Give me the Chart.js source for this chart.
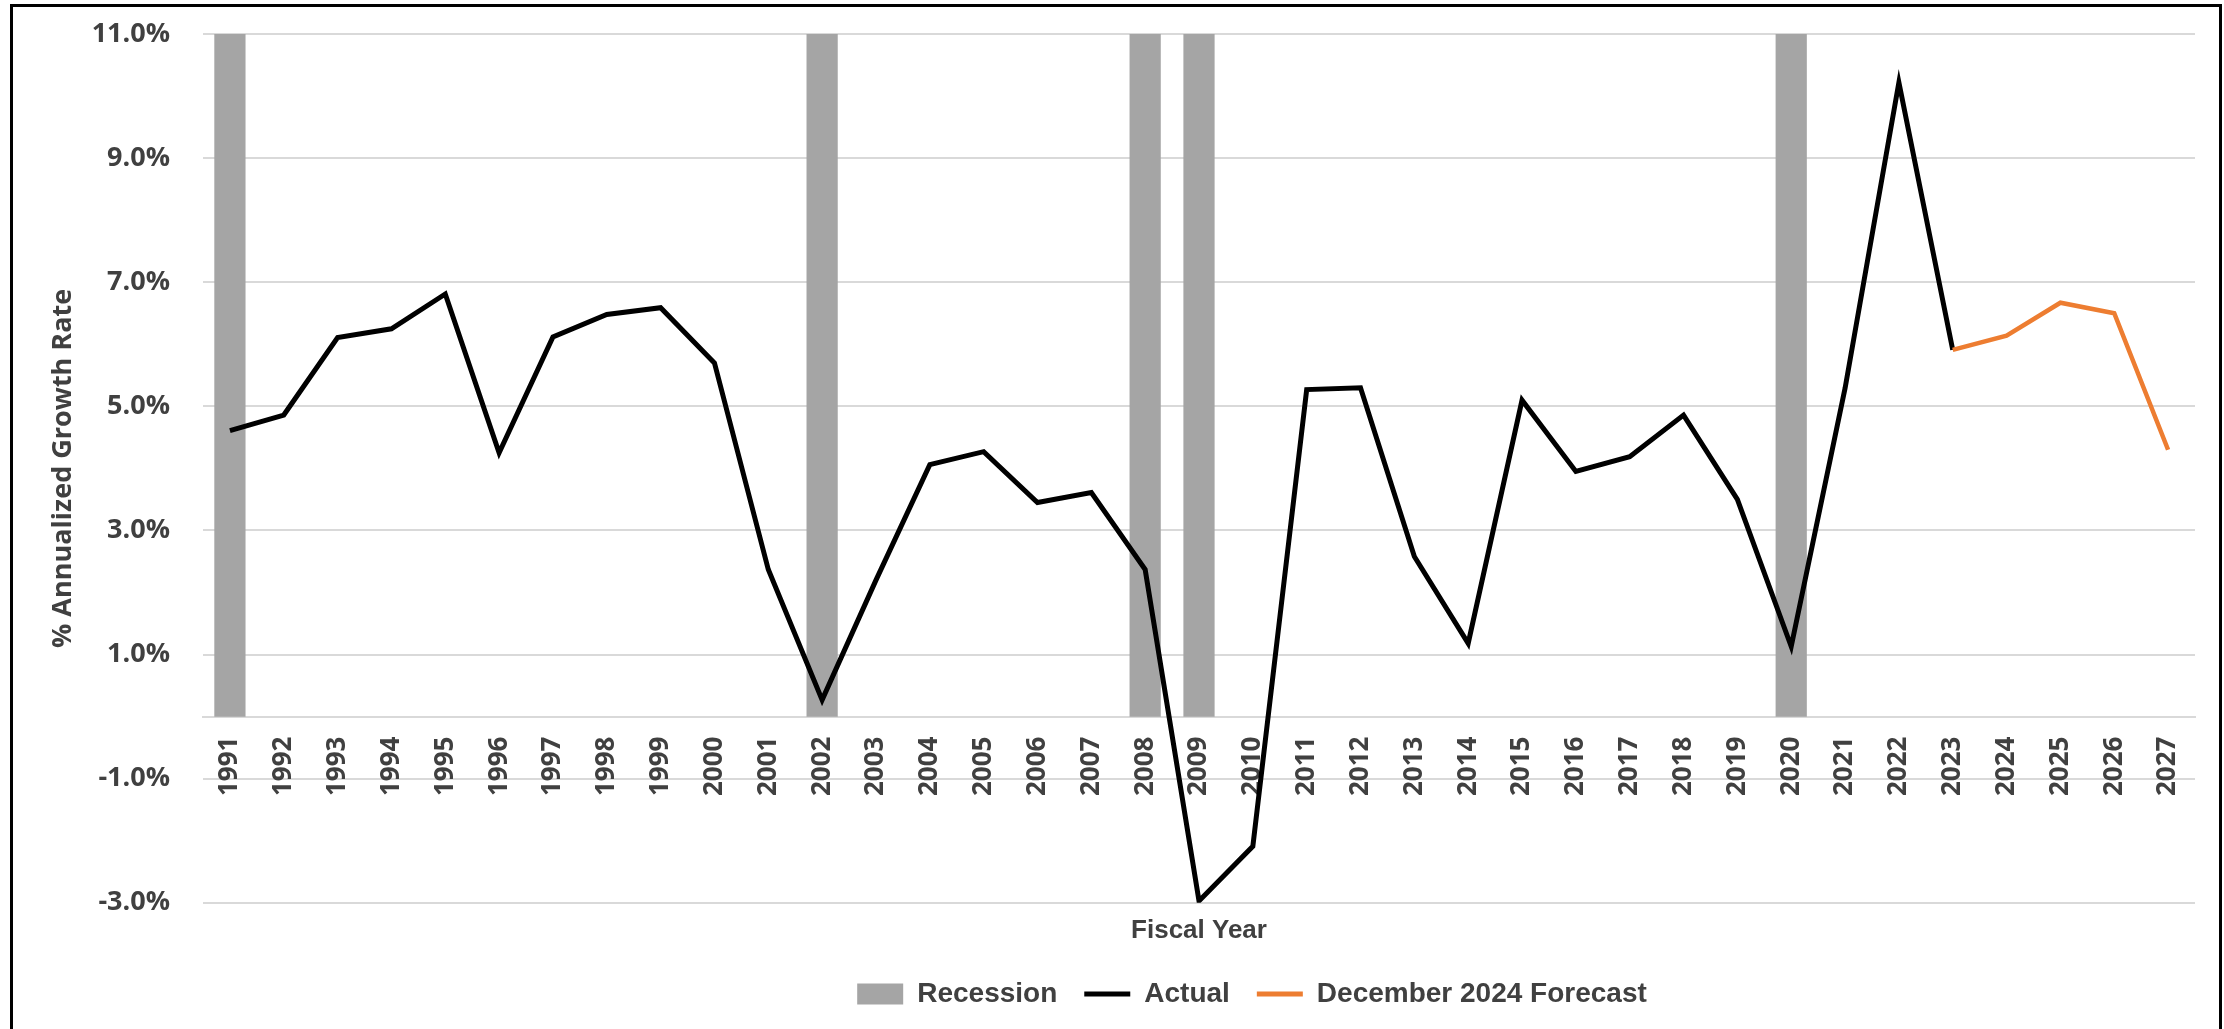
<!DOCTYPE html>
<html>
<head>
<meta charset="utf-8">
<script src="https://cdn.jsdelivr.net/npm/chart.js@4/dist/chart.umd.min.js"></script>
<style>
  html, body { margin: 0; padding: 0; background: #ffffff; overflow: hidden; }
  #wrap { position: relative; width: 2224px; height: 1029px; }
  #frame { position: absolute; left: 10px; top: 4px; width: 2212px; height: 1100px;
           box-sizing: border-box; border: 3px solid #000; border-bottom: none; pointer-events: none; }
  canvas { position: absolute; left: 0; top: 0; }
</style>
</head>
<body>
<div id="wrap">
  <canvas id="c" width="2224" height="1029"></canvas>
  <div id="frame"></div>
</div>
<script>
const years = ['1991','1992','1993','1994','1995','1996','1997','1998','1999','2000',
  '2001','2002','2003','2004','2005','2006','2007','2008','2009','2010',
  '2011','2012','2013','2014','2015','2016','2017','2018','2019','2020',
  '2021','2022','2023','2024','2025','2026','2027'];

const recession = [11, null, null, null, null, null, null, null, null, null,
  null, 11, null, null, null, null, null, 11, 11, null,
  null, null, null, null, null, null, null, null, null, 11,
  null, null, null, null, null, null, null];

const actual = [4.61, 4.86, 6.11, 6.25, 6.81, 4.25, 6.12, 6.48, 6.59, 5.70,
  2.37, 0.27, 2.20, 4.06, 4.27, 3.45, 3.61, 2.37, -2.97, -2.09,
  5.27, 5.30, 2.58, 1.18, 5.10, 3.95, 4.19, 4.86, 3.50, 1.13,
  5.29, 10.22, 5.91, null, null, null, null];

const forecast = [null, null, null, null, null, null, null, null, null, null,
  null, null, null, null, null, null, null, null, null, null,
  null, null, null, null, null, null, null, null, null, null,
  null, null, 5.91, 6.14, 6.67, 6.50, 4.30];

const yTicks = [-3, -1, 1, 3, 5, 7, 9, 11];

const seriesNames = ['Recession', 'Actual', 'December 2024 Forecast'];
const seriesColors = ['#a5a5a5', '#000000', '#ed7d31'];

const tickColor = '#404040';
const gridColor = '#d9d9d9';
const sansB = "'Liberation Sans', Arial, sans-serif";

const legendShift = {
  id: 'legendShift',
  afterLayout(chart) {
    if (chart.legend) { chart.legend.left += 53; chart.legend.right += 53; }
  }
};

new Chart(document.getElementById('c'), {
  data: {
    labels: years,
    datasets: [
      { type: 'bar', label: seriesNames[0], data: recession, backgroundColor: seriesColors[0],
        borderWidth: 0, barPercentage: 0.58, categoryPercentage: 1, order: 3 },
      { type: 'line', label: seriesNames[1], data: actual, borderColor: seriesColors[1],
        backgroundColor: seriesColors[1], borderWidth: 5, pointRadius: 0, tension: 0,
        spanGaps: false, order: 1 },
      { type: 'line', label: seriesNames[2], data: forecast, borderColor: seriesColors[2],
        backgroundColor: seriesColors[2], borderWidth: 4.5, pointRadius: 0, tension: 0,
        spanGaps: false, order: 0 }
    ]
  },
  options: {
    responsive: false,
    animation: false,
    devicePixelRatio: 1,
    layout: { padding: { left: 20, right: 29, top: 34, bottom: 11 } },
    scales: {
      x: {
        type: 'category',
        position: { y: 0 },
        offset: true,
        grid: { display: false, drawTicks: false },
        border: { display: true, color: gridColor, width: 2 },
        ticks: {
          autoSkip: false, minRotation: 90, maxRotation: 90, padding: 20,
          color: tickColor, font: { family: "'Open Sans', sans-serif", size: 26, weight: 'bold' }
        },
        afterFit(scale) { scale.height = 0; }
      },
      y: {
        min: -3, max: 11,
        afterBuildTicks(scale) { scale.ticks = yTicks.map(v => ({ value: v })); },
        grid: { color: gridColor, lineWidth: 2, drawTicks: true, tickLength: 33, tickColor: 'rgba(0,0,0,0)' },
        border: { display: false },
        ticks: {
          padding: 0, color: tickColor,
          font: { family: "'Open Sans', sans-serif", size: 27, weight: 'bold' },
          callback: (v) => Number(v).toFixed(1) + '%'
        },
        title: {
          display: true, text: '% Annualized Growth Rate', color: tickColor,
          padding: { top: 27, bottom: 0 },
          font: { family: "'Open Sans', sans-serif", size: 27, weight: 'bold' }
        },
        afterFit(scale) { scale.width = 183; }
      }
    },
    plugins: {
      tooltip: { enabled: false },
      title: {
        display: true, position: 'bottom', text: 'Fiscal Year', fullSize: false, weight: 500,
        color: tickColor, padding: { top: 12, bottom: 7 },
        font: { family: sansB, size: 26, weight: 'bold' }
      },
      legend: {
        display: true, position: 'bottom', align: 'center', fullSize: false,
        labels: {
          color: tickColor, padding: 27, usePointStyle: true, pointStyleWidth: 46, boxHeight: 21,
          font: { family: sansB, size: 28, weight: 'bold' },
          sort: (a, b) => a.datasetIndex - b.datasetIndex,
          generateLabels(chart) {
            return chart.data.datasets.map((ds, i) => ({
              text: ds.label,
              datasetIndex: i,
              fillStyle: ds.type === 'bar' ? ds.backgroundColor : ds.borderColor,
              strokeStyle: ds.type === 'bar' ? ds.backgroundColor : ds.borderColor,
              lineWidth: ds.type === 'bar' ? 0 : 5,
              pointStyle: ds.type === 'bar' ? 'rect' : 'line',
              fontColor: tickColor,
              hidden: false
            }));
          }
        }
      }
    }
  },
  plugins: [legendShift]
});
</script>
</body>
</html>
